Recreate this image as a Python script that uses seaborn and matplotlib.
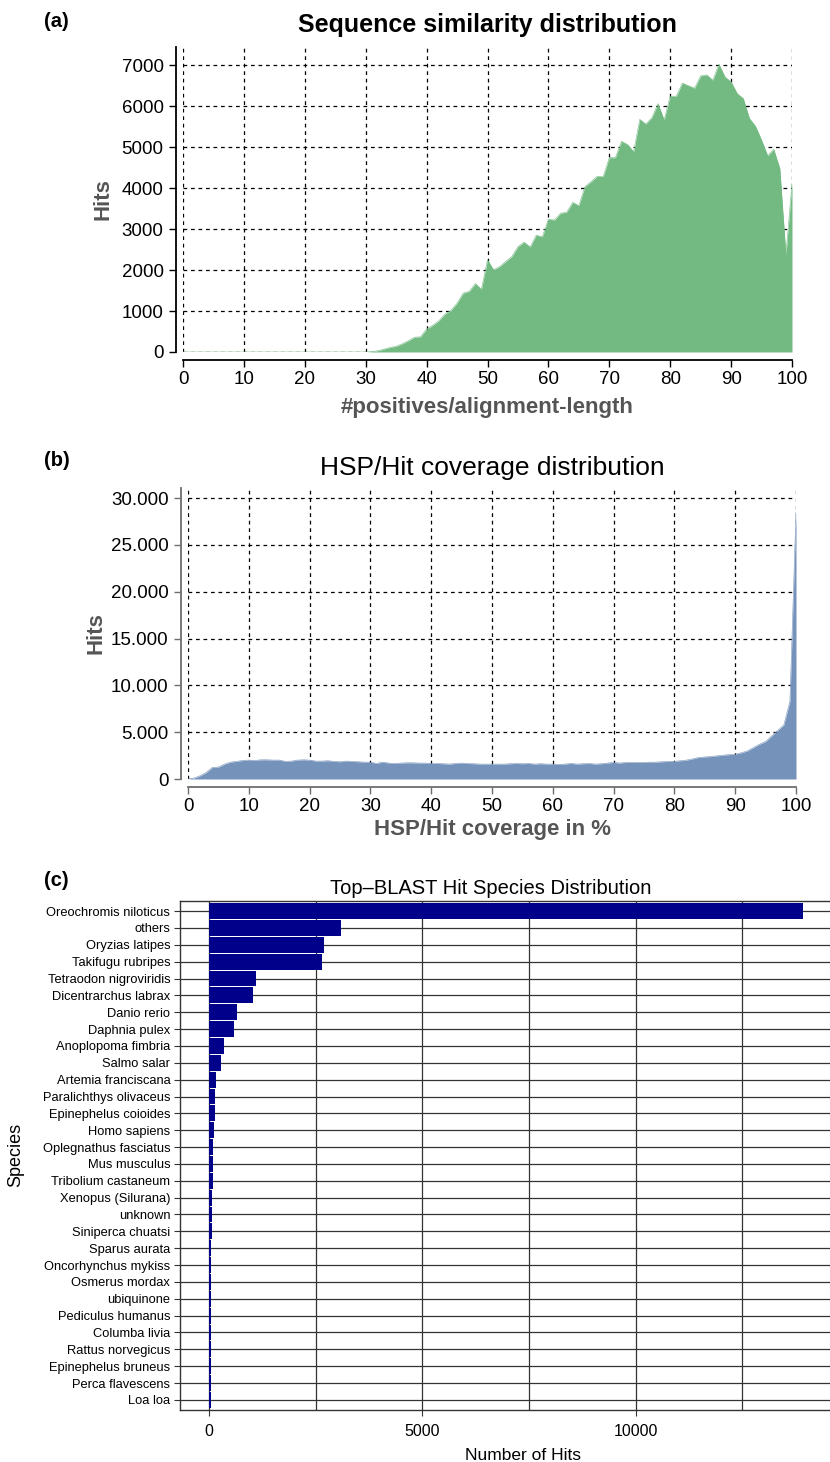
import numpy as np
import pandas as pd
import matplotlib
matplotlib.use("Agg")
import matplotlib.pyplot as plt
from matplotlib.ticker import FuncFormatter
import seaborn as sns

# ---------------- data ----------------
# (a) sequence similarity distribution
sim_x = list(range(0, 101))
sim_hits = [0] * 31 + [
    10, 30, 70, 110, 140, 200, 275, 360, 370,           # 31-39
    560, 650, 760, 925, 1015, 1190, 1435, 1480, 1670, 1530,   # 40-49
    2250, 2005, 2085, 2210, 2330, 2570, 2680, 2560, 2850, 2810,  # 50-59
    3240, 3220, 3385, 3410, 3650, 3570, 4035, 4155, 4285, 4280,  # 60-69
    4740, 4740, 5140, 5060, 4885, 5675, 5560, 5720, 6060, 5660,  # 70-79
    6240, 6240, 6560, 6495, 6435, 6735, 6760, 6630, 7020, 6710,  # 80-89
    6590, 6305, 6185, 5700, 5510, 5170, 4790, 4945, 4480, 2370,  # 90-99
    4115]                                                         # 100

# (b) HSP/Hit coverage distribution
cov_x = list(range(0, 101))
cov_hits = [
    0, 100, 350, 700, 1240, 1270, 1590, 1800, 1880, 1980,        # 0-9
    2020, 1980, 2050, 2050, 2020, 2020, 1880, 1910, 2020, 2050,  # 10-19
    2020, 1910, 1910, 1950, 1880, 1840, 1910, 1880, 1840, 1800,  # 20-29
    1800, 1660, 1800, 1700, 1660, 1700, 1730, 1730, 1700, 1700,  # 30-39
    1660, 1660, 1630, 1590, 1660, 1700, 1660, 1630, 1590, 1590,  # 40-49
    1590, 1590, 1590, 1630, 1660, 1630, 1660, 1590, 1630, 1590,  # 50-59
    1590, 1560, 1590, 1660, 1590, 1630, 1660, 1590, 1630, 1700,  # 60-69
    1770, 1700, 1770, 1770, 1770, 1770, 1800, 1800, 1840, 1880,  # 70-79
    1880, 1950, 2020, 2150, 2300, 2350, 2400, 2470, 2540, 2600,  # 80-89
    2650, 2800, 3000, 3360, 3715, 4000, 4600, 5200, 5770, 8300,  # 90-99
    28500]                                                        # 100

# (c) Top-BLAST hit species distribution
species = [
    "Oreochromis niloticus", "others", "Oryzias latipes", "Takifugu rubripes",
    "Tetraodon nigroviridis", "Dicentrarchus labrax", "Danio rerio",
    "Daphnia pulex", "Anoplopoma fimbria", "Salmo salar",
    "Artemia franciscana", "Paralichthys olivaceus", "Epinephelus coioides",
    "Homo sapiens", "Oplegnathus fasciatus", "Mus musculus",
    "Tribolium castaneum", "Xenopus (Silurana)", "unknown",
    "Siniperca chuatsi", "Sparus aurata", "Oncorhynchus mykiss",
    "Osmerus mordax", "ubiquinone", "Pediculus humanus", "Columba livia",
    "Rattus norvegicus", "Epinephelus bruneus", "Perca flavescens", "Loa loa"]
species_hits = [
    13925, 3087, 2689, 2642, 1095, 1025, 650, 580, 345, 275,
    160, 135, 130, 110, 105, 85, 82, 80, 62, 60,
    58, 52, 50, 49, 48, 47, 46, 45, 44, 43]

sim_ticks = [0, 10, 20, 30, 40, 50, 60, 70, 80, 90, 100]
sim_yticks = [0, 1000, 2000, 3000, 4000, 5000, 6000, 7000]
cov_ticks = [0, 10, 20, 30, 40, 50, 60, 70, 80, 90, 100]
cov_yticks = [0, 5000, 10000, 15000, 20000, 25000, 30000]
bar_ticks = [0, 5000, 10000]

# ---------------- style ----------------
sns.set_theme(style="white")
plt.rcParams["font.family"] = ["Liberation Sans", "DejaVu Sans"]
plt.rcParams["text.color"] = "black"
plt.rcParams["axes.labelcolor"] = "black"
plt.rcParams["xtick.color"] = "black"
plt.rcParams["ytick.color"] = "black"
NARROW = ["Liberation Sans Narrow", "Liberation Sans", "DejaVu Sans"]

W, H = 830, 1462
fig = plt.figure(figsize=(W / 100, H / 100), dpi=100)


def rect(l, r, t, b):
    return [l / W, 1 - b / H, (r - l) / W, (b - t) / H]


GREEN = "#73ba82"
BLUE = "#7592ba"
NAVY = "#00008b"
LABEL_GRAY = "#555555"


def style_area_axes(ax, spine_color):
    for s in ["top", "right"]:
        ax.spines[s].set_visible(False)
    ax.spines["left"].set_position(("outward", 5))
    ax.spines["bottom"].set_position(("outward", 6))
    for s in ["left", "bottom"]:
        ax.spines[s].set_color(spine_color)
        ax.spines[s].set_linewidth(1.3)
    ax.grid(True, color="black", linestyle=(0, (3, 3)), linewidth=0.9)
    ax.set_axisbelow(True)
    ax.tick_params(axis="both", which="both", direction="out", length=5,
                   width=1.0, color=spine_color, left=True, bottom=True,
                   labelsize=13.5, labelcolor="black")
    ax.tick_params(axis="y", pad=4)
    ax.tick_params(axis="x", pad=3)
    for lab in ax.get_xticklabels():
        lab.set_family(NARROW)
        lab.set_fontsize(13.5)


# ---------------- (a) ----------------
ax1 = fig.add_axes(rect(183, 792, 47, 352))
df_sim = pd.DataFrame({"x": sim_x, "hits": sim_hits})
sns.lineplot(data=df_sim, x="x", y="hits", ax=ax1, color=GREEN, linewidth=0.4)
ax1.fill_between(df_sim["x"], 0, df_sim["hits"], color=GREEN, linewidth=0,
                 zorder=2)
ax1.set_xlim(0, 100)
ax1.set_ylim(0, 7440)
ax1.set_xticks(sim_ticks)
ax1.set_yticks(sim_yticks)
style_area_axes(ax1, "black")
ax1.set_title("Sequence similarity distribution", fontsize=18,
              fontweight="bold", pad=11)
ax1.set_xlabel("#positives/alignment-length", fontsize=16, fontweight="bold",
               color=LABEL_GRAY, family=NARROW)
ax1.set_ylabel("Hits", fontsize=16, fontweight="bold", color=LABEL_GRAY,
               family=NARROW)
ax1.xaxis.set_label_coords(0.5, (352 - 408) / 305)
ax1.xaxis.label.set_va("center")
ax1.yaxis.set_label_coords((103 - 183) / 609, 0.5)
ax1.yaxis.label.set_va("center")

# ---------------- (b) ----------------
ax2 = fig.add_axes(rect(188, 796, 488, 779))
df_cov = pd.DataFrame({"x": cov_x, "hits": cov_hits})
sns.lineplot(data=df_cov, x="x", y="hits", ax=ax2, color=BLUE, linewidth=0.4)
ax2.fill_between(df_cov["x"], 0, df_cov["hits"], color=BLUE, linewidth=0,
                 zorder=2)
ax2.set_xlim(0, 100)
ax2.set_ylim(0, 31070)
ax2.set_xticks(cov_ticks)
ax2.set_yticks(cov_yticks)
ax2.yaxis.set_major_formatter(
    FuncFormatter(lambda v, p: f"{int(round(v)):,}".replace(",", ".")))
style_area_axes(ax2, "#6e6e6e")
ax2.set_title("HSP/Hit coverage distribution", fontsize=19, pad=9)
ax2.set_xlabel("HSP/Hit coverage in %", fontsize=16, fontweight="bold",
               color=LABEL_GRAY, family=NARROW)
ax2.set_ylabel("Hits", fontsize=16, fontweight="bold", color=LABEL_GRAY,
               family=NARROW)
ax2.xaxis.set_label_coords(0.5, (779 - 830) / 291)
ax2.xaxis.label.set_va("center")
ax2.yaxis.set_label_coords((96 - 188) / 608, 0.5)
ax2.yaxis.label.set_va("center")

# ---------------- (c) ----------------
ax3 = fig.add_axes(rect(180, 830, 901, 1410))
df_sp = pd.DataFrame({"species": species, "hits": species_hits})
sns.barplot(data=df_sp, x="hits", y="species", orient="h", color=NAVY,
            saturation=1, width=0.94, linewidth=0, ax=ax3, zorder=3)
ax3.set_xlim(-680, 14560)
ax3.set_ylim(len(species) - 0.4, -0.6)
ax3.set_xticks(bar_ticks)
ax3.set_xticks([2500, 7500, 12500], minor=True)
ax3.grid(True, which="both", axis="both", color="#333333", linewidth=0.9)
ax3.set_axisbelow(True)
for s in ["top", "left", "bottom"]:
    ax3.spines[s].set_color("#333333")
    ax3.spines[s].set_linewidth(1.0)
ax3.spines["right"].set_visible(False)
ax3.tick_params(axis="y", which="major", left=True, length=4, width=0.8,
                color="#333333", labelsize=9.3, pad=3)
ax3.tick_params(axis="x", which="major", bottom=True, length=4, width=0.8,
                color="#333333", labelsize=11.5, pad=6)
ax3.tick_params(axis="x", which="minor", bottom=False)
ax3.set_title("Top\u2013BLAST Hit Species Distribution", fontsize=14.5,
              x=(491 - 180) / 650, pad=5)
ax3.set_xlabel("Number of Hits", fontsize=12.5)
ax3.set_ylabel("Species", fontsize=13)
ax3.xaxis.set_label_coords((523 - 180) / 650, (1410 - 1455) / 509)
ax3.xaxis.label.set_va("center")
ax3.yaxis.set_label_coords((16 - 180) / 650, (1410 - 1155) / 509)
ax3.yaxis.label.set_va("center")

# panel letters
for letter, y in [("(a)", 21.5), ("(b)", 461), ("(c)", 880)]:
    fig.text(44 / W, 1 - y / H, letter, fontsize=14.5, fontweight="bold",
             ha="left", va="center")

fig.savefig("out.png", dpi=100)
